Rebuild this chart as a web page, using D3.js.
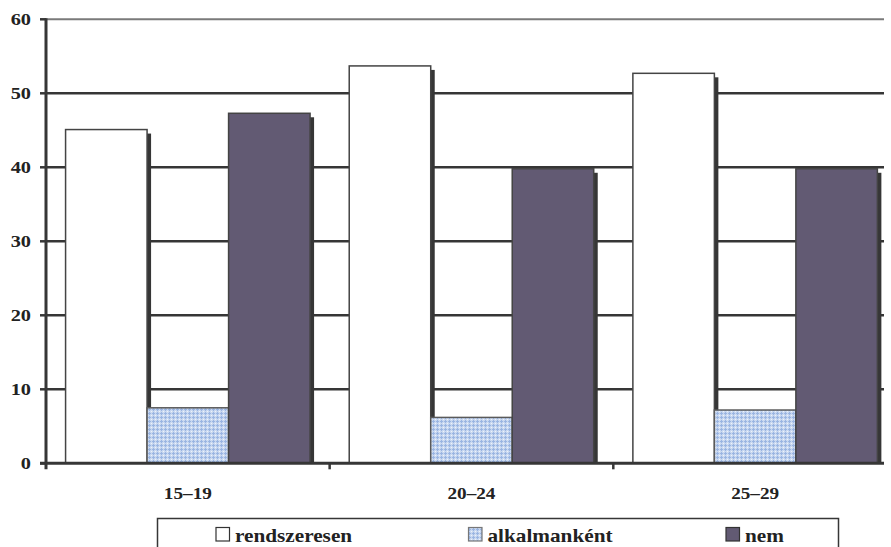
<!DOCTYPE html>
<html>
<head>
<meta charset="utf-8">
<script src="https://cdn.jsdelivr.net/npm/d3@7/dist/d3.min.js"></script>
<style>
  html, body { margin: 0; padding: 0; background: #fff; }
  svg { display: block; }
</style>
</head>
<body>
<svg id="chart" width="891" height="547"></svg>
<script>
const categories = ["15–19", "20–24", "25–29"];
const seriesNames = ["rendszeresen", "alkalmanként", "nem"];
const rendszeresen = [45.1, 53.7, 52.7];
const alkalmankent = [7.5, 6.2, 7.2];
const nem = [47.3, 39.8, 39.8];
const yTicks = [0, 10, 20, 30, 40, 50, 60];

const seriesValues = [rendszeresen, alkalmankent, nem];
const seriesFill = ["#ffffff", "url(#hatch)", "#625a73"];
const FONT = "'Liberation Serif', 'Times New Roman', Times, serif";

const svg = d3.select("#chart");
const defs = svg.append("defs");
const pat = defs.append("pattern").attr("id", "hatch")
  .attr("patternUnits", "userSpaceOnUse").attr("width", 4).attr("height", 4);
pat.append("rect").attr("width", 4).attr("height", 4).attr("fill", "#c9d8f0");
pat.append("rect").attr("x", 1).attr("y", 0).attr("width", 1).attr("height", 3).attr("fill", "#9ab5e2");
pat.append("rect").attr("x", 0).attr("y", 1).attr("width", 3).attr("height", 1).attr("fill", "#9ab5e2");
pat.append("rect").attr("x", 3).attr("y", 3).attr("width", 1).attr("height", 1).attr("fill", "#eef3fb");

const plotLeft = 46, plotRight = 884, plotTop = 19.3, plotBottom = 463.3;
const x = d3.scaleBand().domain(categories).range([plotLeft, plotLeft + 3 * 283.65]).paddingInner(0).paddingOuter(0);
const y = d3.scaleLinear().domain([0, 60]).range([plotBottom, plotTop]);
const barW = 81.5;
const sub = d3.scaleBand().domain(d3.range(3)).range([-1.5 * barW, 1.5 * barW]).padding(0);

const clip = defs.append("clipPath").attr("id", "plotclip");
clip.append("rect").attr("x", plotLeft).attr("y", 0).attr("width", plotRight - plotLeft).attr("height", plotBottom);

function label(px, py, str, size, sx, anchor) {
  return svg.append("text")
    .attr("transform", `translate(${px},${py}) scale(${sx},1)`)
    .attr("text-anchor", anchor)
    .attr("font-family", FONT).attr("font-weight", "bold")
    .attr("font-size", size).attr("fill", "#222")
    .text(str);
}

// gridlines
const grid = svg.append("g");
yTicks.filter(t => t > 0).forEach(t => {
  grid.append("line")
    .attr("x1", plotLeft).attr("x2", plotRight)
    .attr("y1", y(t)).attr("y2", y(t))
    .attr("stroke", t === 60 ? "#7a7a7a" : "#363636")
    .attr("stroke-width", t === 60 ? 2 : 2.5);
});

// bars
const barsG = svg.append("g").attr("clip-path", "url(#plotclip)");
categories.forEach((cat, ci) => {
  const cx = x(cat) + x.bandwidth() / 2;
  seriesValues.forEach((vals, si) => {
    const v = vals[ci];
    const bx = cx + sub(si);
    const by = y(v);
    const h = plotBottom - by;
    barsG.append("rect")
      .attr("x", bx + 4).attr("y", by + 4)
      .attr("width", barW).attr("height", Math.max(0, h - 4))
      .attr("fill", "#363636");
    barsG.append("rect")
      .attr("x", bx).attr("y", by)
      .attr("width", barW).attr("height", h)
      .attr("fill", seriesFill[si])
      .attr("stroke", si === 1 ? "#5a5a5a" : "#444")
      .attr("stroke-width", 1.5);
  });
});

// axes lines
svg.append("line").attr("x1", plotLeft).attr("x2", plotLeft).attr("y1", plotTop - 1).attr("y2", plotBottom + 6)
  .attr("stroke", "#363636").attr("stroke-width", 3);
svg.append("line").attr("x1", 40).attr("x2", plotRight).attr("y1", plotBottom).attr("y2", plotBottom)
  .attr("stroke", "#363636").attr("stroke-width", 3);

// y ticks + labels
yTicks.forEach(t => {
  svg.append("line").attr("x1", 40).attr("x2", plotLeft).attr("y1", y(t)).attr("y2", y(t))
    .attr("stroke", "#363636").attr("stroke-width", 2.5);
  label(31, y(t) + 6, String(t), 16, 1.27, "end");
});

// x ticks at category boundaries
categories.slice(1).forEach(cat => {
  svg.append("line").attr("x1", x(cat)).attr("x2", x(cat)).attr("y1", plotBottom).attr("y2", plotBottom + 6)
    .attr("stroke", "#363636").attr("stroke-width", 2.5);
});
categories.forEach(cat => {
  label(x(cat) + x.bandwidth() / 2, 499, cat, 16, 1.2, "middle");
});

// legend
svg.append("rect").attr("x", 157.5).attr("y", 518.5).attr("width", 681).attr("height", 40)
  .attr("fill", "#fff").attr("stroke", "#363636").attr("stroke-width", 1.5);
const legendX = [216, 468.5, 726];
seriesNames.forEach((name, i) => {
  svg.append("rect").attr("x", legendX[i]).attr("y", 527.5).attr("width", 13.5).attr("height", 13.5)
    .attr("fill", seriesFill[i]).attr("stroke", i === 1 ? "#777" : "#333").attr("stroke-width", 1.2);
  label(legendX[i] + 19, 542, name, 18, 1.18, "start");
});
</script>
</body>
</html>
